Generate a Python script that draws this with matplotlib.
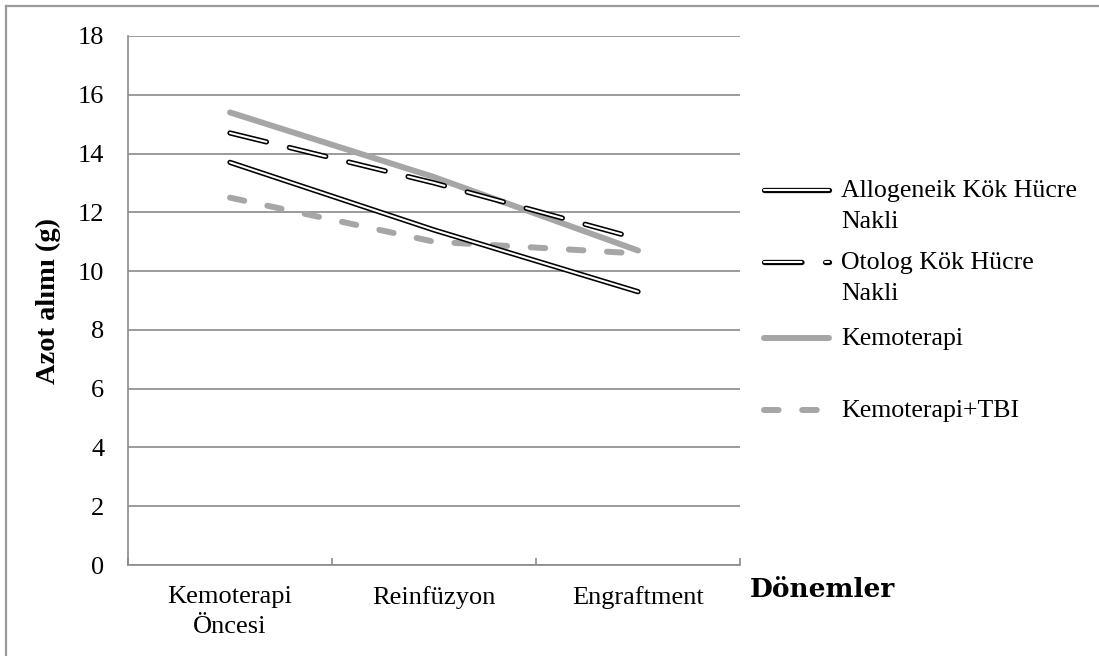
import matplotlib
matplotlib.use("Agg")
import matplotlib.pyplot as plt
from matplotlib.lines import Line2D

plt.rcParams['font.family'] = ['Liberation Serif', 'DejaVu Serif']
plt.rcParams['lines.scale_dashes'] = False

# Dönemler ve gruplara göre azot alımı (g)
donemler = ["Kemoterapi\nÖncesi", "Reinfüzyon", "Engraftment"]
allogeneik = [13.7, 11.4, 9.3]
otolog = [14.7, 13.0, 11.1]
kemoterapi = [15.4, 13.2, 10.7]
kemo_tbi = [12.5, 11.0, 10.6]
y_ticks = list(range(0, 19, 2))

W, H = 1099, 656
fig = plt.figure(figsize=(W / 100, H / 100), dpi=100)
ax = fig.add_axes([128 / W, 1 - 565 / H, 612 / W, 529 / H])

gri = '#a6a6a6'
izgara = '#8a8a8a'
x = range(len(donemler))

KALIN, INCE, GRI_LW = 3.8, 1.5, 4.3
OTO_DASH = (27, 17)
TBI_DASH = (10.5, 17)

# çift çizgi: kalın siyah + üstte ince beyaz
ax.plot(x, kemoterapi, color=gri, lw=GRI_LW, solid_capstyle='round', zorder=3)
ax.plot(x, kemo_tbi, color=gri, lw=GRI_LW, dashes=TBI_DASH,
        dash_capstyle='round', zorder=3)
ax.plot(x, allogeneik, color='black', lw=KALIN, solid_capstyle='round', zorder=4)
ax.plot(x, allogeneik, color='white', lw=INCE, solid_capstyle='round', zorder=5)
ax.plot(x, otolog, color='black', lw=KALIN, dashes=OTO_DASH,
        dash_capstyle='round', zorder=4)
ax.plot(x, otolog, color='white', lw=INCE, dashes=OTO_DASH,
        dash_capstyle='round', zorder=5)

ax.set_xlim(-0.5, 2.5)
ax.set_ylim(0, 18)
ax.set_yticks(y_ticks)
ax.set_yticklabels([str(v) for v in y_ticks], fontsize=19)
ax.tick_params(axis='y', length=0, pad=17)
ax.set_xticks([i - 0.5 for i in range(len(donemler) + 1)])
ax.set_xticklabels([])
ax.set_xticks(list(x), minor=True)
ax.set_xticklabels(donemler, minor=True, fontsize=19, linespacing=1.5)
ax.tick_params(axis='x', which='major', direction='in', length=5,
               color=izgara, width=1.2)
ax.tick_params(axis='x', which='minor', length=0, pad=15)

ax.grid(axis='y', color=izgara, lw=1.2)
ax.set_axisbelow(True)
for s in ['top', 'right']:
    ax.spines[s].set_visible(False)
for s in ['left', 'bottom']:
    ax.spines[s].set_color(izgara)
    ax.spines[s].set_linewidth(1.2)

ax.set_ylabel("Azot alımı (g)", fontsize=20.5, fontweight='bold', labelpad=12)
fig.text(750 / W, 1 - 597 / H, "Dönemler", fontsize=19, fontweight='bold',
         family='DejaVu Serif', ha='left', va='baseline')


def fx(px):
    return px / W


def fy(py):
    return 1 - py / H


# lejant (el ile)
lejant = [
    ("Allogeneik Kök Hücre\nNakli", 190, 'cift', None),
    ("Otolog Kök Hücre\nNakli", 262, 'cift', OTO_DASH),
    ("Kemoterapi", 338, 'gri', None),
    ("Kemoterapi+TBI", 410, 'gri', TBI_DASH),
]
SATIR = 31
for metin, yy, tur, dash in lejant:
    xs = [fx(764), fx(829)]
    ys = [fy(yy), fy(yy)]
    if tur == 'cift':
        katmanlar = [('black', KALIN), ('white', INCE)]
    else:
        katmanlar = [(gri, GRI_LW)]
    for renk, lw in katmanlar:
        ln = Line2D(xs, ys, color=renk, lw=lw, transform=fig.transFigure,
                    solid_capstyle='round', dash_capstyle='round')
        if dash:
            ln.set_dashes(dash)
        fig.add_artist(ln)
    # her satırı ayrı yaz, ilk satır çizgiyle hizalı
    for k, satir in enumerate(metin.split("\n")):
        fig.text(fx(841), fy(yy + 7 + k * SATIR), satir, fontsize=18.6,
                 ha='left', va='baseline')

# dış çerçeve
cerceve = '#9a9a9a'
fig.add_artist(Line2D([fx(6), 1], [fy(6), fy(6)], color=cerceve, lw=1.6,
                      transform=fig.transFigure))
fig.add_artist(Line2D([fx(6), fx(6)], [0, fy(6)], color=cerceve, lw=1.6,
                      transform=fig.transFigure))

fig.savefig("out.png", dpi=100)
